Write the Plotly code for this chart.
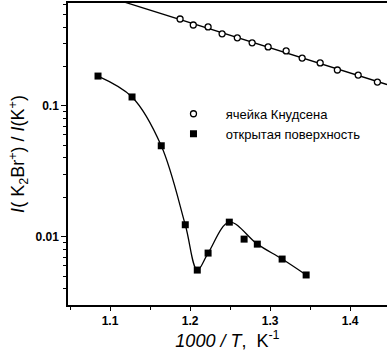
import numpy as np
import plotly.graph_objects as go

# Knudsen cell: ratio I(K2Br+)/I(K+) vs 1000/T
knudsen_x = [1.1875, 1.204, 1.2225, 1.240, 1.259, 1.2775, 1.2975, 1.320,
             1.340, 1.3625, 1.384, 1.410, 1.434]
knudsen_y = [0.461, 0.415, 0.401, 0.355, 0.331, 0.303, 0.282, 0.263,
             0.232, 0.213, 0.188, 0.172, 0.152]

# Open surface
open_x = [1.085, 1.1275, 1.164, 1.194, 1.209, 1.2225, 1.249, 1.2675,
          1.284, 1.315, 1.345]
open_y = [0.169, 0.117, 0.0496, 0.01236, 0.00557, 0.00751, 0.01294,
          0.00960, 0.00879, 0.00676, 0.00511]
# points that the smooth guide curve follows (the scattered point at 1.2675 is left off)
open_curve_idx = [0, 1, 2, 3, 4, 5, 6, 8, 9, 10]

x_ticks = [1.1, 1.2, 1.3, 1.4]
y_ticks = [0.01, 0.1]
y_tick_text = ["0.01", "0.1"]

x_range = [1.0475, 1.446]
y_range = [-2.521, -0.214]

# straight-line fit of log10 ratio for the Knudsen cell data
coef = np.polyfit(knudsen_x, np.log10(knudsen_y), 1)
fit_x = np.linspace(x_range[0], x_range[1], 50)
fit_y = 10 ** np.polyval(coef, fit_x)

pad = "\u00a0\u00a0"  # extra gap between legend symbol and label

fig = go.Figure()
fig.add_trace(go.Scatter(x=fit_x, y=fit_y, mode="lines",
                         line=dict(color="black", width=1.3),
                         showlegend=False, hoverinfo="skip"))
fig.add_trace(go.Scatter(x=[open_x[i] for i in open_curve_idx],
                         y=[open_y[i] for i in open_curve_idx],
                         mode="lines", line=dict(color="black", width=1.3, shape="spline"),
                         showlegend=False, hoverinfo="skip"))
fig.add_trace(go.Scatter(x=knudsen_x, y=knudsen_y, mode="markers",
                         name=pad + "ячейка Кнудсена",
                         marker=dict(symbol="circle", size=6, color="white",
                                     line=dict(color="black", width=1.3))))
fig.add_trace(go.Scatter(x=open_x, y=open_y, mode="markers",
                         name=pad + "открытая поверхность",
                         marker=dict(symbol="square", size=7, color="black",
                                     line=dict(color="black", width=0))))

fig.update_layout(
    width=387, height=358,
    margin=dict(l=68, r=0, t=3, b=53),
    paper_bgcolor="white", plot_bgcolor="white",
    font=dict(family="Arial", color="black"),
    legend=dict(x=0.315, y=0.6, xanchor="left", yanchor="middle",
                bgcolor="rgba(0,0,0,0)", font=dict(size=13),
                itemwidth=40, tracegroupgap=0),
    xaxis=dict(range=x_range, showline=True, linecolor="black", linewidth=1.5,
               mirror=True, showgrid=False, zeroline=False,
               tickvals=x_ticks, ticktext=["<b>%g</b>" % v for v in x_ticks],
               ticks="outside", ticklen=4, tickwidth=1.3, tickcolor="black",
               tickfont=dict(size=12),
               minor=dict(tickvals=[1.05, 1.15, 1.25, 1.35], ticks="outside",
                          ticklen=3, tickwidth=1, tickcolor="black"),
               title=dict(text="<i>1000 / T</i>,  K<sup>-1</sup>",
                          font=dict(size=18), standoff=5)),
    yaxis=dict(type="log", range=y_range, showline=True, linecolor="black",
               linewidth=1.5, showgrid=False, zeroline=False,
               tickvals=y_ticks, ticktext=["<b>%s</b>" % t for t in y_tick_text],
               ticks="outside", ticklen=5, tickwidth=1.3, tickcolor="black",
               tickfont=dict(size=12),
               minor=dict(tickvals=[k * 10 ** e for e in (-3, -2, -1) for k in range(2, 10)],
                          ticks="outside", ticklen=3, tickwidth=1, tickcolor="black"),
               title=dict(text="<i>I</i>( K<sub>2</sub>Br<sup>+</sup>) / <i>I</i>(K<sup>+</sup>)",
                          font=dict(size=18), standoff=6)),
)

fig.write_html("out.html")
